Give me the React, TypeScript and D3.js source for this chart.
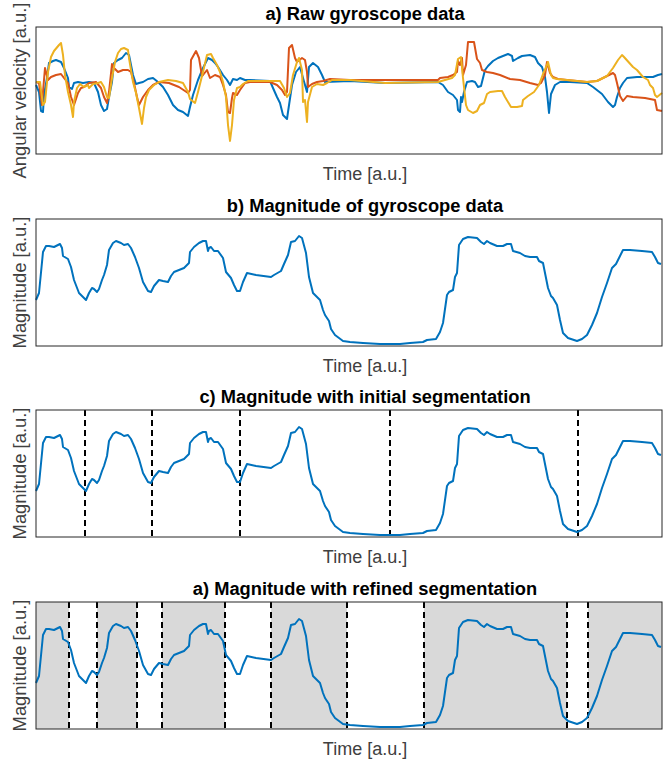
import React from 'react';
import * as d3 from 'd3';

// time in samples, values in arbitrary units
const timeDomain: [number, number] = [0, 626];
const rawDomain: [number, number] = [-73, 54];
const magDomain: [number, number] = [0, 127];

const gyroX: [number, number][] = [
  [0, -4], [3, -11], [5, -30], [7, -31], [8, -14], [11, 3], [13, 18], [17, 20], [20, 21], [25, 19],
  [28, 13], [32, 3], [33, -6], [36, -8], [38, -2], [42, -1], [47, -2], [53, -1], [58, -2], [62, -11],
  [65, -24], [68, -30], [71, -28], [73, -16], [76, -1], [78, 18], [82, 21], [86, 23], [90, 28], [93, 26],
  [95, 16], [97, 6], [100, -3], [103, -2], [107, -1], [112, 2], [117, 3], [122, -1], [127, -6], [132, -14],
  [137, -24], [142, -29], [147, -31], [152, -35], [154, -26], [157, -14], [162, 1], [167, 13], [172, 23],
  [176, 21], [179, 18], [182, 14], [187, 6], [191, 1], [194, -4], [197, 2], [201, 1], [204, 3], [209, 1],
  [214, 1], [234, 0], [237, -7], [241, -16], [244, -22], [247, -34], [251, -38], [252, -31], [256, -4],
  [260, 9], [264, 14], [267, 3], [271, -11], [273, 14], [277, 18], [282, 14], [286, 6], [289, -1],
  [314, 0], [349, -2], [402, -1], [407, -4], [412, -11], [417, -14], [421, -19], [422, -29], [424, -31],
  [425, -16], [426, -21], [428, -11], [431, -1], [436, 0], [439, -1], [442, -6], [445, -5], [447, 3],
  [449, 11], [452, 15], [457, 20], [462, 23], [467, 25], [472, 27], [476, 25], [477, 20], [482, 23],
  [486, 25], [494, 26], [499, 24], [502, 18], [506, 14], [509, 4], [511, -11], [513, -32], [515, -13],
  [519, -4], [524, -1], [534, -1], [551, -2], [557, -6], [566, -13], [572, -21], [577, -26], [579, -24],
  [581, -16], [584, -7], [587, -2], [591, 3], [601, 4], [617, 4], [622, 6], [626, 7],
];

const gyroY: [number, number][] = [
  [0, -1], [3, -2], [6, -24], [7, -11], [9, 13], [12, 1], [15, 4], [20, 6], [25, 7], [28, 3], [32, -2],
  [35, -16], [38, -24], [42, -12], [45, -7], [48, -6], [53, -2], [60, -1], [65, -7], [68, -16], [71, -22],
  [73, -11], [76, 17], [78, 13], [82, 9], [87, 11], [92, 11], [95, 9], [98, -2], [101, -16], [103, -24],
  [107, -16], [112, -9], [117, -4], [123, -1], [133, -2], [143, -6], [152, -12], [154, -9], [155, 21],
  [160, 30], [163, 23], [166, 5], [167, 6], [171, 11], [174, 3], [179, 6], [184, 4], [187, -4], [190, -14],
  [192, -31], [194, -32], [196, -17], [197, -12], [201, -14], [204, -9], [209, -2], [214, -1], [234, -1],
  [241, -4], [246, -9], [249, -14], [251, -11], [253, 33], [256, 36], [259, 23], [261, 19], [266, 23],
  [269, 21], [271, 9], [272, -6], [276, -3], [281, -1], [287, 0], [294, 2], [314, 1], [402, 1], [404, 3],
  [412, 4], [417, 6], [421, 9], [422, 20], [424, 16], [426, 23], [427, 6], [430, 16], [432, 39], [438, 39],
  [441, 22], [444, 18], [446, 11], [451, 9], [457, 8], [464, 6], [474, 2], [484, 1], [494, -2], [502, -4],
  [505, -2], [509, 6], [511, 19], [514, 8], [517, 4], [522, 2], [531, 1], [551, -1], [561, 0], [571, 5],
  [577, 8], [579, 6], [581, -2], [584, -15], [587, -20], [591, -15], [597, -16], [609, -17], [619, -19],
  [621, -29], [626, -30],
];

const gyroZ: [number, number][] = [
  [0, -1], [4, -1], [7, -24], [9, -21], [12, 9], [15, 24], [18, 30], [23, 36], [25, 38], [27, 26], [29, 6],
  [32, -11], [35, -24], [37, -36], [38, -21], [41, -7], [44, -3], [48, -6], [52, -4], [53, -7], [57, -3],
  [62, -2], [65, -1], [68, -6], [71, -16], [73, -17], [76, 3], [79, 19], [82, 28], [85, 32], [88, 33],
  [92, 31], [93, 23], [97, -1], [100, -12], [103, -27], [106, -43], [108, -27], [110, -16], [113, -9],
  [118, -4], [123, -1], [132, 1], [140, 0], [147, -2], [152, -11], [154, -18], [159, -22], [162, -11],
  [167, 9], [171, 26], [175, 27], [177, 23], [181, 16], [184, 9], [187, -1], [190, -16], [192, -44],
  [194, -60], [196, -44], [198, -19], [201, -7], [204, -6], [207, -3], [212, 0], [244, 0], [248, -7],
  [251, -16], [254, -12], [257, 6], [261, 19], [263, 23], [266, 11], [267, -21], [269, -19], [271, -41],
  [272, -21], [276, -6], [281, -3], [287, -4], [291, -2], [296, 1], [314, 1], [349, -2], [402, -1],
  [409, 1], [416, 3], [419, 6], [422, 22], [425, 24], [427, 3], [430, -24], [432, -29], [437, -32],
  [441, -30], [444, -24], [448, -22], [451, -13], [454, -11], [462, -10], [466, -10], [469, -16],
  [475, -26], [481, -26], [486, -25], [487, -19], [492, -15], [498, -11], [503, -4], [507, 7], [511, 16],
  [512, 19], [515, 6], [517, 3], [521, 2], [531, 1], [551, -1], [561, 0], [571, 5], [577, 13], [582, 21],
  [586, 26], [588, 24], [597, 14], [601, 11], [607, 4], [612, 1], [614, -4], [617, -7], [619, -14],
  [621, -16], [626, -12],
];

const magnitude: [number, number][] = [
  [0, 46], [3, 53], [7, 94], [10, 100], [13, 100], [18, 99], [22, 101], [24, 102], [26, 98], [27, 90],
  [32, 87], [35, 79], [38, 66], [43, 53], [47, 49], [50, 46], [53, 53], [56, 58], [58, 57], [61, 54],
  [63, 57], [66, 66], [68, 71], [71, 81], [73, 96], [77, 103], [80, 105], [85, 103], [88, 101], [92, 102],
  [95, 98], [99, 89], [103, 78], [107, 64], [112, 55], [115, 54], [118, 60], [123, 66], [127, 65],
  [132, 64], [135, 70], [138, 74], [143, 76], [148, 78], [153, 83], [154, 94], [158, 99], [163, 103],
  [167, 105], [170, 105], [172, 95], [173, 98], [175, 99], [178, 95], [182, 95], [187, 88], [190, 74],
  [195, 68], [198, 61], [201, 55], [204, 55], [207, 64], [211, 73], [220, 71], [235, 69], [238, 71],
  [245, 75], [248, 82], [252, 91], [255, 104], [259, 105], [263, 110], [266, 108], [270, 93], [273, 69],
  [277, 53], [281, 49], [284, 46], [287, 36], [289, 31], [293, 25], [295, 17], [299, 11], [303, 8],
  [307, 5], [314, 4], [327, 3], [344, 2], [364, 2], [374, 3], [387, 4], [391, 6], [400, 7], [404, 14],
  [407, 23], [411, 51], [413, 54], [417, 56], [419, 69], [421, 73], [423, 101], [427, 107], [432, 109],
  [441, 108], [445, 104], [448, 102], [451, 105], [454, 103], [461, 100], [467, 100], [471, 102],
  [475, 102], [477, 95], [484, 93], [489, 90], [494, 89], [501, 89], [503, 85], [507, 83], [510, 68],
  [512, 58], [515, 50], [517, 48], [521, 41], [524, 26], [527, 13], [532, 8], [541, 5], [546, 7],
  [551, 11], [556, 21], [561, 33], [566, 49], [571, 63], [576, 78], [580, 82], [584, 90], [587, 96],
  [594, 96], [606, 95], [616, 94], [619, 89], [622, 83], [625, 82],
];

const initialCuts = [49, 116, 204, 354, 542];
const refinedCuts = [33, 61, 101, 126, 189, 235, 311, 388, 531, 552];

const titles = [
  'a) Raw gyroscope data',
  'b) Magnitude of gyroscope data',
  'c) Magnitude with initial segmentation',
  'a) Magnitude with refined segmentation',
];
const yLabels = ['Angular velocity [a.u.]', 'Magnitude [a.u.]', 'Magnitude [a.u.]', 'Magnitude [a.u.]'];
const xLabel = 'Time [a.u.]';

const colors = ['#0072BD', '#D95319', '#EDB120'];
const font = '"Liberation Sans", Arial, Helvetica, sans-serif';

const W = 669;
const H = 761;
const left = 36;
const right = 662;
const textCenter = 365;
const plotH = 127;
const tops = [27, 219, 410, 602];

const x = d3.scaleLinear().domain(timeDomain).range([left, right]);

function Panel({ index, children }: { index: number; children: React.ReactNode }) {
  const top = tops[index];
  return (
    <g>
      {children}
      <rect x={left} y={top} width={right - left} height={plotH} fill="none" stroke="#262626" strokeWidth={1} />
      <text x={textCenter} y={top - 7} textAnchor="middle" fontFamily={font} fontWeight="bold" fontSize={18.3} fill="#000">
        {titles[index]}
      </text>
      <text x={textCenter} y={top + plotH + 26} textAnchor="middle" fontFamily={font} fontSize={18} fill="#404040">
        {xLabel}
      </text>
      <text transform={`translate(26,${top + plotH / 2}) rotate(-90)`} textAnchor="middle" fontFamily={font} fontSize={18.4} fill="#404040">
        {yLabels[index]}
      </text>
    </g>
  );
}

export default function App() {
  const yRaw = d3.scaleLinear().domain(rawDomain).range([tops[0] + plotH, tops[0]]);
  const rawLine = d3.line<[number, number]>().x((d) => x(d[0])).y((d) => yRaw(d[1]));

  const magPanel = (i: number) => {
    const y = d3.scaleLinear().domain(magDomain).range([tops[i] + plotH, tops[i]]);
    const l = d3.line<[number, number]>().x((d) => x(d[0])).y((d) => y(d[1]));
    return l(magnitude) || '';
  };

  // alternating shaded segments for refined segmentation
  const bounds = [timeDomain[0], ...refinedCuts, timeDomain[1]];
  const shaded = d3.range(0, bounds.length - 1, 2).map((k) => [bounds[k], bounds[k + 1]]);

  const dashed = (cuts: number[], i: number) =>
    cuts.map((c) => (
      <line key={c} x1={x(c)} x2={x(c)} y1={tops[i]} y2={tops[i] + plotH} stroke="#000" strokeWidth={2} strokeDasharray="6,4" />
    ));

  return (
    <svg width={W} height={H} style={{ position: 'absolute', left: 0, top: 0, background: '#fff' }}>
      <rect width={W} height={H} fill="#fff" />
      <Panel index={0}>
        {[gyroX, gyroY, gyroZ].map((s, k) => (
          <path key={k} d={rawLine(s) || ''} fill="none" stroke={colors[k]} strokeWidth={2} strokeLinejoin="round" />
        ))}
      </Panel>
      <Panel index={1}>
        <path d={magPanel(1)} fill="none" stroke={colors[0]} strokeWidth={2} strokeLinejoin="round" />
      </Panel>
      <Panel index={2}>
        {dashed(initialCuts, 2)}
        <path d={magPanel(2)} fill="none" stroke={colors[0]} strokeWidth={2} strokeLinejoin="round" />
      </Panel>
      <Panel index={3}>
        {shaded.map(([a, b]) => (
          <rect key={a} x={x(a)} y={tops[3]} width={x(b) - x(a)} height={plotH} fill="#D9D9D9" />
        ))}
        {dashed(refinedCuts, 3)}
        <path d={magPanel(3)} fill="none" stroke={colors[0]} strokeWidth={2} strokeLinejoin="round" />
      </Panel>
    </svg>
  );
}
